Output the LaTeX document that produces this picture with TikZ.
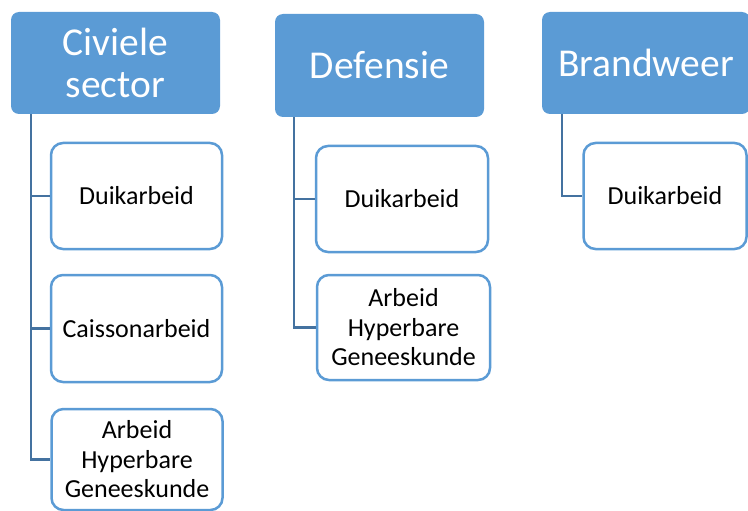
\documentclass[tikz,border=0pt]{standalone}
\usepackage{fontspec}
\setmainfont{Carlito}
\usepackage{tikz}

\definecolor{headblue}{RGB}{91,155,213}
\definecolor{linkblue}{RGB}{68,114,160}

\tikzset{
	head/.style={draw=none, fill=headblue, text=white, rounded corners=8pt,
		align=center, inner sep=0pt, font=\fontsize{39.5}{42}\selectfont},
	item/.style={draw=headblue, fill=white, line width=2.5pt, rounded corners=12pt,
		align=center, inner sep=0pt, font=\fontsize{26}{29.5}\selectfont},
	link/.style={draw=linkblue, line width=2.5pt}
}

\begin{document}
\begin{tikzpicture}[x=1pt, y=-1pt]
			\useasboundingbox (0,0) rectangle (748,511);
			% headers
			\node[head, minimum width=209pt, minimum height=102pt] (civ) at (115.5,63) {Civiele\\sector};
			\node[head, minimum width=209pt, minimum height=103pt] (def) at (379.5,65.5) {Defensie};
			\node[head, minimum width=208pt, minimum height=102pt] (bra) at (646,63) {Brandweer};
			% sub items
			\node[item, minimum width=171pt, minimum height=106pt] (civ1) at (136.5,196) {Duikarbeid};
			\node[item, minimum width=171pt, minimum height=107pt] (civ2) at (136.5,328.5) {Caissonarbeid};
			\node[item, minimum width=171pt, minimum height=101pt] (civ3) at (137,459.5) {Arbeid\\Hyperbare\\Geneeskunde};
			\node[item, minimum width=172pt, minimum height=106pt] (def1) at (402,199) {Duikarbeid};
			\node[item, minimum width=173pt, minimum height=105pt] (def2) at (403.5,327.5) {Arbeid\\Hyperbare\\Geneeskunde};
			\node[item, minimum width=163pt, minimum height=106pt] (bra1) at (665,196) {Duikarbeid};
			% links
			\draw[link] ([xshift=20pt]civ.south west) |- (civ1.west);
			\draw[link] ([xshift=20pt]civ.south west) |- (civ2.west);
			\draw[link] ([xshift=20pt]civ.south west) |- (civ3.west);
			\draw[link] ([xshift=19pt]def.south west) |- (def1.west);
			\draw[link] ([xshift=19pt]def.south west) |- (def2.west);
			\draw[link] ([xshift=20pt]bra.south west) |- (bra1.west);
		\end{tikzpicture}
\end{document}
